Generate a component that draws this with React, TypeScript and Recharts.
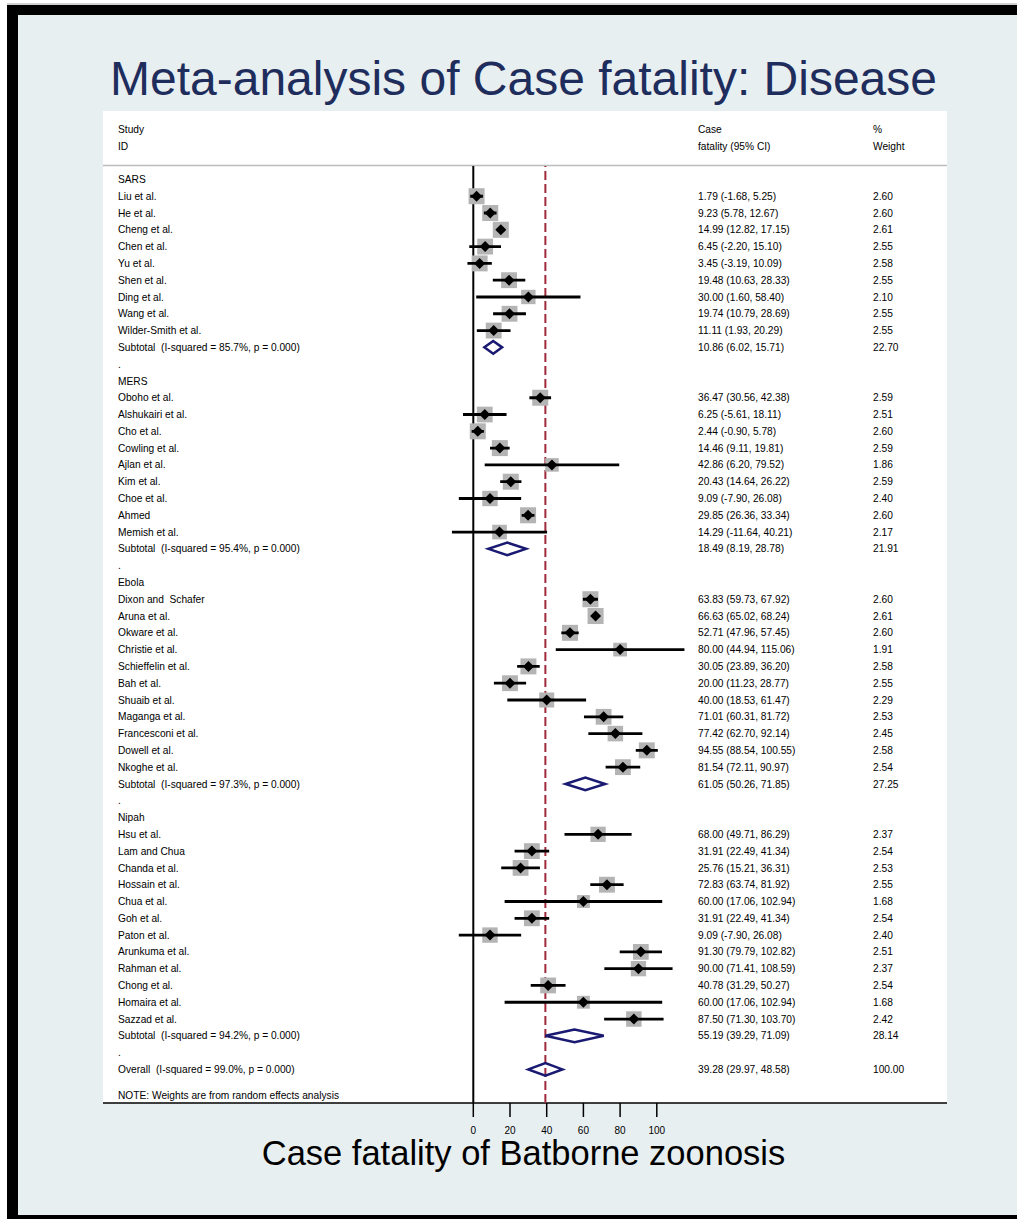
import React from 'react';
import { ScatterChart, Scatter, XAxis, YAxis, ReferenceLine } from 'recharts';

const FONT = '"Liberation Sans", Arial, Helvetica, sans-serif';

const groupNames = ['SARS', 'MERS', 'Ebola', 'Nipah'];

const sarsStudies = ['Liu et al.', 'He et al.', 'Cheng et al.', 'Chen et al.', 'Yu et al.', 'Shen et al.', 'Ding et al.', 'Wang et al.', 'Wilder-Smith et al.'];
const sarsEst = [1.79, 9.23, 14.99, 6.45, 3.45, 19.48, 30.0, 19.74, 11.11];
const sarsLow = [-1.68, 5.78, 12.82, -2.2, -3.19, 10.63, 1.6, 10.79, 1.93];
const sarsHigh = [5.25, 12.67, 17.15, 15.1, 10.09, 28.33, 58.4, 28.69, 20.29];
const sarsWeight = [2.6, 2.6, 2.61, 2.55, 2.58, 2.55, 2.1, 2.55, 2.55];

const mersStudies = ['Oboho et al.', 'Alshukairi et al.', 'Cho et al.', 'Cowling et al.', 'Ajlan et al.', 'Kim et al.', 'Choe et al.', 'Ahmed', 'Memish et al.'];
const mersEst = [36.47, 6.25, 2.44, 14.46, 42.86, 20.43, 9.09, 29.85, 14.29];
const mersLow = [30.56, -5.61, -0.9, 9.11, 6.2, 14.64, -7.9, 26.36, -11.64];
const mersHigh = [42.38, 18.11, 5.78, 19.81, 79.52, 26.22, 26.08, 33.34, 40.21];
const mersWeight = [2.59, 2.51, 2.6, 2.59, 1.86, 2.59, 2.4, 2.6, 2.17];

const ebolaStudies = ['Dixon and  Schafer', 'Aruna et al.', 'Okware et al.', 'Christie et al.', 'Schieffelin et al.', 'Bah et al.', 'Shuaib et al.', 'Maganga et al.', 'Francesconi et al.', 'Dowell et al.', 'Nkoghe et al.'];
const ebolaEst = [63.83, 66.63, 52.71, 80.0, 30.05, 20.0, 40.0, 71.01, 77.42, 94.55, 81.54];
const ebolaLow = [59.73, 65.02, 47.96, 44.94, 23.89, 11.23, 18.53, 60.31, 62.7, 88.54, 72.11];
const ebolaHigh = [67.92, 68.24, 57.45, 115.06, 36.2, 28.77, 61.47, 81.72, 92.14, 100.55, 90.97];
const ebolaWeight = [2.6, 2.61, 2.6, 1.91, 2.58, 2.55, 2.29, 2.53, 2.45, 2.58, 2.54];

const nipahStudies = ['Hsu et al.', 'Lam and Chua', 'Chanda et al.', 'Hossain et al.', 'Chua et al.', 'Goh et al.', 'Paton et al.', 'Arunkuma et al.', 'Rahman et al.', 'Chong et al.', 'Homaira et al.', 'Sazzad et al.'];
const nipahEst = [68.0, 31.91, 25.76, 72.83, 60.0, 31.91, 9.09, 91.3, 90.0, 40.78, 60.0, 87.5];
const nipahLow = [49.71, 22.49, 15.21, 63.74, 17.06, 22.49, -7.9, 79.79, 71.41, 31.29, 17.06, 71.3];
const nipahHigh = [86.29, 41.34, 36.31, 81.92, 102.94, 41.34, 26.08, 102.82, 108.59, 50.27, 102.94, 103.7];
const nipahWeight = [2.37, 2.54, 2.53, 2.55, 1.68, 2.54, 2.4, 2.51, 2.37, 2.54, 1.68, 2.42];

const subtotalLabels = [
  'Subtotal  (I-squared = 85.7%, p = 0.000)',
  'Subtotal  (I-squared = 95.4%, p = 0.000)',
  'Subtotal  (I-squared = 97.3%, p = 0.000)',
  'Subtotal  (I-squared = 94.2%, p = 0.000)',
];
const subtotalEst = [10.86, 18.49, 61.05, 55.19];
const subtotalLow = [6.02, 8.19, 50.26, 39.29];
const subtotalHigh = [15.71, 28.78, 71.85, 71.09];
const subtotalWeight = [22.7, 21.91, 27.25, 28.14];

const overallLabel = 'Overall  (I-squared = 99.0%, p = 0.000)';
const overallEst = 39.28;
const overallLow = 29.97;
const overallHigh = 48.58;
const overallWeight = 100.0;

const xTicks = [0, 20, 40, 60, 80, 100];

type Row = {
  row: number;
  label: string;
  kind: 'group' | 'study' | 'summary' | 'spacer';
  est?: number;
  lo?: number;
  hi?: number;
  w?: number;
};

const groupData = [
  { names: sarsStudies, est: sarsEst, lo: sarsLow, hi: sarsHigh, w: sarsWeight },
  { names: mersStudies, est: mersEst, lo: mersLow, hi: mersHigh, w: mersWeight },
  { names: ebolaStudies, est: ebolaEst, lo: ebolaLow, hi: ebolaHigh, w: ebolaWeight },
  { names: nipahStudies, est: nipahEst, lo: nipahLow, hi: nipahHigh, w: nipahWeight },
];

const rows: Row[] = [];
let rc = 0;
groupData.forEach((g, gi) => {
  rows.push({ row: rc++, label: groupNames[gi], kind: 'group' });
  g.names.forEach((n, i) => {
    rows.push({ row: rc++, label: n, kind: 'study', est: g.est[i], lo: g.lo[i], hi: g.hi[i], w: g.w[i] });
  });
  rows.push({
    row: rc++, label: subtotalLabels[gi], kind: 'summary',
    est: subtotalEst[gi], lo: subtotalLow[gi], hi: subtotalHigh[gi], w: subtotalWeight[gi],
  });
  rows.push({ row: rc++, label: '.', kind: 'spacer' });
});
rows.push({ row: rc++, label: overallLabel, kind: 'summary', est: overallEst, lo: overallLow, hi: overallHigh, w: overallWeight });

const rowByIndex = new Map<number, Row>();
rows.forEach((r) => rowByIndex.set(r.row, r));

const studyRows = rows.filter((r) => r.kind === 'study');
const studyPoints = studyRows.map((r) => ({ x: r.est as number, y: r.row, w: r.w as number }));
const ciSegments = studyRows.map((r) => [
  { x: r.lo as number, y: r.row },
  { x: r.hi as number, y: r.row },
]);

const DIAMOND_HALF = 0.375;
const summaryPolygons = rows
  .filter((r) => r.kind === 'summary')
  .map((r) => [
    { x: r.lo as number, y: r.row },
    { x: r.est as number, y: r.row - DIAMOND_HALF },
    { x: r.hi as number, y: r.row },
    { x: r.est as number, y: r.row + DIAMOND_HALF },
    { x: r.lo as number, y: r.row },
    { x: r.est as number, y: r.row - DIAMOND_HALF },
  ]);

const fmt = (v: number) => v.toFixed(2);
const TXT = 10.2;

const RowTick = (props: any) => {
  const { y, payload } = props;
  const r = rowByIndex.get(Math.round(payload.value));
  if (!r) return null;
  const base = y + 3.6;
  return (
    <g>
      <text x={118} y={base} fontSize={TXT} fontFamily={FONT} fill="#000" style={{ whiteSpace: 'pre' }}>
        {r.label}
      </text>
      {r.est !== undefined && (
        <text x={698} y={base} fontSize={TXT} fontFamily={FONT} fill="#000">
          {`${fmt(r.est)} (${fmt(r.lo as number)}, ${fmt(r.hi as number)})`}
        </text>
      )}
      {r.w !== undefined && (
        <text x={873} y={base} fontSize={TXT} fontFamily={FONT} fill="#000">
          {fmt(r.w)}
        </text>
      )}
    </g>
  );
};

const BoxShape = (props: any) => {
  const { cx, cy, payload } = props;
  if (cx == null || cy == null) return <g />;
  const s = 16 * Math.sqrt(payload.w / 2.6);
  return <rect x={cx - s / 2} y={cy - s / 2} width={s} height={s} fill="#b4b4b4" />;
};

const DiamondShape = (props: any) => {
  const { cx, cy } = props;
  if (cx == null || cy == null) return <g />;
  const d = 5.5;
  return <polygon points={`${cx},${cy - d} ${cx + d},${cy} ${cx},${cy + d} ${cx - d},${cy}`} fill="#000" />;
};

const NoShape = () => <g />;

const Background = () => (
  <svg width={1017} height={1219} style={{ position: 'absolute', left: 0, top: 0 }}>
    <rect x={0} y={0} width={1017} height={1219} fill="#ffffff" />
    <line x1={7} y1={4} x2={1017} y2={4} stroke="#a0a0a0" strokeWidth={1} />
    <rect x={7} y={5} width={1010} height={1214} fill="#000" />
    <rect x={18} y={15} width={999} height={1200} fill="#e8eff1" />
    <rect x={103} y={111} width={844} height={992} fill="#ffffff" />
    <line x1={103} y1={165.5} x2={947} y2={165.5} stroke="#bdbdbd" strokeWidth={1.5} />
    <line x1={103} y1={1103} x2={947} y2={1103} stroke="#000" strokeWidth={1.6} />
    <text x={523.5} y={95} textAnchor="middle" fontSize={48} fontFamily={FONT} fill="#1e2d5c">
      Meta-analysis of Case fatality: Disease
    </text>
    <text x={523.5} y={1165} textAnchor="middle" fontSize={34.5} fontFamily={FONT} fill="#000">
      Case fatality of Batborne zoonosis
    </text>
    <g fontSize={TXT} fontFamily={FONT} fill="#000">
      <text x={118} y={132.5}>Study</text>
      <text x={118} y={149.5}>ID</text>
      <text x={698} y={132.5}>Case</text>
      <text x={698} y={149.5}>fatality (95% CI)</text>
      <text x={873} y={132.5}>%</text>
      <text x={873} y={149.5}>Weight</text>
      <text x={118} y={1098.5}>NOTE: Weights are from random effects analysis</text>
    </g>
  </svg>
);

export default function App() {
  return (
    <div style={{ position: 'absolute', left: 0, top: 0, width: 1017, height: 1219, overflow: 'hidden' }}>
      <Background />
      <div style={{ position: 'absolute', left: 0, top: 0 }}>
        <ScatterChart width={1017} height={1219} margin={{ top: 166, right: 323.5, bottom: 86, left: 435.6 }}>
          <XAxis
            type="number"
            dataKey="x"
            domain={[-20, 120]}
            allowDataOverflow
            ticks={xTicks}
            interval={0}
            axisLine={false}
            tickSize={14}
            tickMargin={10}
            height={30}
            tickLine={{ stroke: '#000', strokeWidth: 1.5 }}
            tick={{ fontSize: 10, fill: '#000', fontFamily: FONT }}
          />
          <YAxis
            type="number"
            dataKey="y"
            domain={[-0.8, 55]}
            reversed
            allowDataOverflow
            ticks={rows.map((r) => r.row)}
            interval={0}
            axisLine={false}
            tickLine={false}
            width={1}
            tick={<RowTick />}
          />
          <Scatter data={studyPoints} shape={<BoxShape />} isAnimationActive={false} />
          <ReferenceLine x={0} stroke="#000" strokeWidth={2} />
          <ReferenceLine x={overallEst} stroke="#9e2a3a" strokeWidth={2} strokeDasharray="9 4" />
          {ciSegments.map((seg, i) => (
            <Scatter
              key={`ci-${i}`}
              data={seg}
              shape={<NoShape />}
              line={{ stroke: '#000', strokeWidth: 2.8 }}
              lineType="joint"
              lineJointType="linear"
              isAnimationActive={false}
            />
          ))}
          <Scatter data={studyPoints} shape={<DiamondShape />} isAnimationActive={false} />
          {summaryPolygons.map((poly, i) => (
            <Scatter
              key={`sum-${i}`}
              data={poly}
              shape={<NoShape />}
              line={{ stroke: '#1a1a72', strokeWidth: 2.5 }}
              lineType="joint"
              lineJointType="linear"
              isAnimationActive={false}
            />
          ))}
        </ScatterChart>
      </div>
    </div>
  );
}
